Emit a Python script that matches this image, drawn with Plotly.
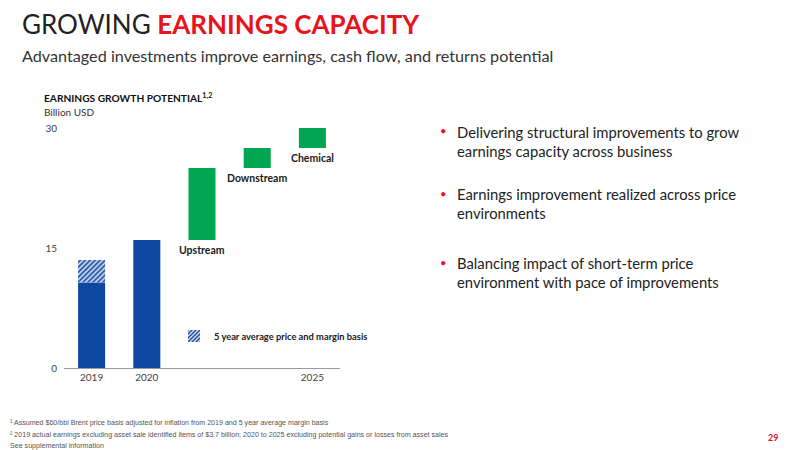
import plotly.graph_objects as go

# ---- data ----
categories = ["2019", "2020", "Upstream", "Downstream", "Chemical"]
tick_vals = ["2019", "2020", "Chemical"]
tick_labels = ["2019", "2020", "2025"]
actual_cats = ["2019", "2020"]
actual_values = [10.7, 16.0]
avg_basis_cats = ["2019"]
avg_basis_base = [10.7]
avg_basis_values = [2.8]
growth_cats = ["Upstream", "Downstream", "Chemical"]
growth_base = [16.0, 25.0, 27.5]
growth_values = [9.0, 2.5, 2.5]
y_ticks = [0, 15, 30]

BLUE = "#0e47a1"
GREEN = "#00a651"
RED = "#e8141b"
FONT = "Lato"

W, H = 800, 450
OFF = 8  # page body margin
def fx(p):
    return (p - OFF) / W
def fy(p):
    return 1 - (p - OFF) / H

fig = go.Figure()
fig.add_trace(go.Bar(x=actual_cats, y=actual_values, base=[0] * len(actual_values),
                     marker=dict(color=BLUE, line=dict(width=0)), width=0.49,
                     showlegend=False))
fig.add_trace(go.Bar(x=avg_basis_cats, y=avg_basis_values, base=avg_basis_base,
                     name="5 year average price and margin basis",
                     marker=dict(color=BLUE, line=dict(width=0),
                                 pattern=dict(shape="/", fgcolor=BLUE, bgcolor="#dfe8f6",
                                              size=3.5, solidity=0.5, fillmode="replace")),
                     width=0.49, showlegend=True))
fig.add_trace(go.Bar(x=growth_cats, y=growth_values, base=growth_base,
                     marker=dict(color=GREEN, line=dict(width=0)), width=0.49,
                     showlegend=False))

annotations = []
for c, b in zip(growth_cats, growth_base):
    annotations.append(dict(x=c, y=b, xref="x", yref="y", text="<b>%s</b>" % c,
                            showarrow=False, yanchor="top", yshift=-2,
                            font=dict(family=FONT, size=10.5, color="#1a1a1a")))

def txt(x, y, text, size, color="#222", xanchor="left", yanchor="middle", family=FONT, align="left"):
    annotations.append(dict(x=fx(x), y=fy(y), xref="paper", yref="paper", text=text,
                            showarrow=False, xanchor=xanchor, yanchor=yanchor, align=align,
                            font=dict(family=family, size=size, color=color)))

txt(20, 24, "GROWING <b><span style='color:%s'>EARNINGS CAPACITY</span></b>" % RED, 26, "#222")
txt(20, 55, "Advantaged investments improve earnings, cash flow, and returns potential", 16.2, "#333")
txt(42, 98, "<b>EARNINGS GROWTH POTENTIAL<sup>1,2</sup></b>", 10.2, "#111")
txt(42, 112, "Billion USD", 10, "#333")

bullets = [
    (131, "Delivering structural improvements to grow<br>earnings capacity across business"),
    (193, "Earnings improvement realized across price<br>environments"),
    (262, "Balancing impact of short-term price<br>environment with pace of improvements"),
]
for y, t in bullets:
    txt(443, y, "•", 11, RED, xanchor="center", yanchor="middle")
    txt(455, y - 10, t, 14.8, "#222", yanchor="top")

FOOT = "Liberation Sans"
txt(8, 423, "¹ Assumed $60/bbl Brent price basis adjusted for inflation from 2019 and 5 year average margin basis",
    7.1, "#555", family=FOOT)
txt(8, 435, "² 2019 actual earnings excluding asset sale identified items of $3.7 billion; 2020 to 2025 excluding potential gains or losses from asset sales",
    7.1, "#555", family=FOOT)
txt(8, 446, "See supplemental information", 7.1, "#555", family=FOOT)
txt(773, 437, "<b>29</b>", 9, RED, xanchor="center")

fig.update_layout(
    width=W, height=H, autosize=False,
    margin=dict(l=0, r=0, t=0, b=0, autoexpand=False),
    paper_bgcolor="white", plot_bgcolor="white",
    barmode="overlay",
    font=dict(family=FONT, size=10, color="#444"),
    xaxis=dict(domain=[fx(64), fx(340)], type="category", categoryorder="array",
               categoryarray=categories, tickmode="array", tickvals=tick_vals,
               ticktext=tick_labels, range=[-0.5, 4.5], showgrid=False,
               showline=True, linecolor="#9a9a9a", linewidth=1, ticks="",
               automargin=False,
               tickfont=dict(family=FONT, size=10, color="#444"), fixedrange=True),
    yaxis=dict(domain=[fy(368), fy(128)], range=[0, 30], tickvals=y_ticks,
               showgrid=False, zeroline=False, showline=False, ticks="",
               ticklabelstandoff=6, automargin=False,
               tickfont=dict(family=FONT, size=10, color="#444"), fixedrange=True),
    legend=dict(x=fx(174), y=fy(336), xanchor="left", yanchor="middle",
                bgcolor="rgba(0,0,0,0)", font=dict(family=FONT, size=9.3, color="#1a1a1a", weight="bold"),
                itemclick=False, itemdoubleclick=False),
    annotations=annotations,
)

fig.write_html("out.html")
